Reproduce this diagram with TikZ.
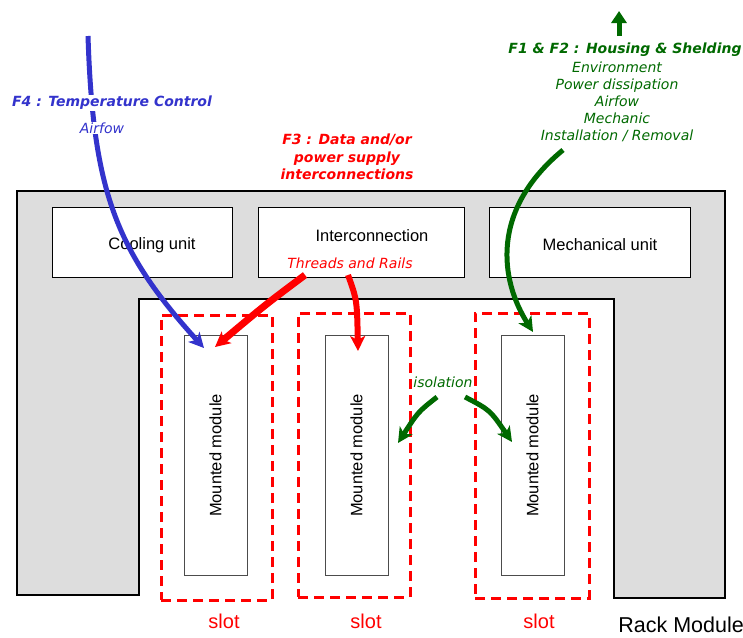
\documentclass[tikz,border=0pt]{standalone}
\usepackage{fontspec}
\setmainfont{Liberation Sans}
\newfontfamily\verdanafont{DejaVu Sans}
\usetikzlibrary{arrows.meta,positioning}

\definecolor{flowblue}{RGB}{51,51,204}
\definecolor{flowgreen}{RGB}{0,105,0}
\definecolor{rackgray}{RGB}{221,221,221}

\newcommand\unitfont{\fontsize{16.5}{19}\selectfont}
\newcommand\bigunitfont{\fontsize{20}{22}\selectfont}
\newcommand\funcfont{\verdanafont\bfseries\itshape\fontsize{14}{17.5}\selectfont}
\newcommand\notefont{\verdanafont\itshape\fontsize{14}{17}\selectfont}

\tikzset{
  rackbox/.style={draw=black, fill=rackgray, line width=2pt, line join=miter},
  unitbox/.style={draw=black, fill=white, line width=1pt, inner sep=0pt},
  slotbox/.style={draw=red, line width=3pt, dash pattern=on 10pt off 6pt, inner sep=0pt},
  modulebox/.style={draw=black!70, fill=white, line width=1pt, inner sep=0pt,
                    minimum width=63pt, minimum height=240pt},
  unitlabel/.style={font=\unitfont, inner sep=0pt},
  slotlabel/.style={font=\bigunitfont, text=red, inner sep=0pt, anchor=base},
  flowlabel/.style={font=\funcfont, fill=white, inner sep=1pt, align=center},
  notelabel/.style={font=\notefont, inner sep=1pt, align=center},
  arrowtip/.style={-{Stealth[length=15pt,width=15pt,inset=4pt]}},
}

\begin{document}
\begin{tikzpicture}[x=1pt, y=-1pt]
        \useasboundingbox (0,0) rectangle (743,637);

        % Rack module (grey frame)
        \draw[rackbox] (17,191) -- (725,191) -- (725,598) -- (614,598) -- (614,299)
            -- (139,299) -- (139,595) -- (17,595) -- cycle;
        \node[unitlabel, font=\fontsize{21.5}{23}\selectfont, anchor=base east] (rack) at (744,632) {Rack Module};

        % Units in the rack
        \node[unitbox, minimum width=180pt, minimum height=70pt] (cooling) at (142,242) {};
        \node[unitbox, minimum width=206pt, minimum height=70pt] (inter) at (361,242) {};
        \node[unitbox, minimum width=201pt, minimum height=70pt] (mech) at (589.5,242) {};
        \node[unitlabel] (coolingtext) at (152,245) {Cooling unit};
        \node[unitlabel] (intertext) at (372,236) {Interconnection};
        \node[unitlabel] (mechtext) at (600,245) {Mechanical unit};

        % Slots and mounted modules
        \node[slotbox, minimum width=111pt, minimum height=285pt] (slot1) at (216.5,457.5) {};
        \node[slotbox, minimum width=112pt, minimum height=284pt] (slot2) at (354,455) {};
        \node[slotbox, minimum width=114pt, minimum height=285pt] (slot3) at (532,455.5) {};
        \foreach \i/\x in {1/215.5, 2/356.5, 3/532.5} {
            \node[modulebox] (mod\i) at (\x,455.5) {};
            \node[unitlabel, rotate=90] (modtext\i) at (mod\i) {Mounted module};
        }
        \node[slotlabel] (slotlabel1) at (224,628) {slot};
        \node[slotlabel] (slotlabel2) at (366,628) {slot};
        \node[slotlabel] (slotlabel3) at (539,628) {slot};

        % F4 : temperature control
        \coordinate (bluestart) at (88,36);
        \coordinate (bluetip) at (204,348);
        \draw[flowblue, line width=5pt, arrowtip] (bluestart)
            .. controls (93,190) and (115,250) .. (bluetip);
        \node[flowlabel, text=flowblue] (f4) at (112,103) {F4 : Temperature Control};
        \node[notelabel, text=flowblue, fill=white] (airfow) at (102,128) {Airfow};

        % F3 : data and power
        \node[flowlabel, text=red] (f3) at (347,157) {F3 : Data and/or\\ power supply\\ interconnections};
        \node[notelabel, text=red] (threads) at (350,263) {Threads and Rails};
        \coordinate (redstart1) at (305,275);
        \coordinate (redtip1) at (215,347);
        \coordinate (redstart2) at (348,275);
        \coordinate (redtip2) at (358,351);
        \draw[red, line width=7pt, arrowtip] (redstart1) .. controls (265,305) .. (redtip1);
        \draw[red, line width=6pt, arrowtip] (redstart2) .. controls (357,300) .. (redtip2);

        % F1 & F2 : housing and shelding
        \coordinate (upstart) at (619,36);
        \coordinate (uptip) at (619,11);
        \draw[flowgreen, line width=5pt, -{Triangle[length=12pt,width=15pt]}] (upstart) -- (uptip);
        \node[flowlabel, text=flowgreen, fill=none] (f12) at (625,50) {F1 \& F2 : Housing \& Shelding};
        \node[notelabel, text=flowgreen] (f12notes) at (617,102)
            {Environment\\ Power dissipation\\ Airfow\\ Mechanic\\ Installation / Removal};
        \coordinate (greenstart) at (563,150);
        \coordinate (greentip) at (533,332);
        \draw[flowgreen, line width=5pt, arrowtip] (greenstart)
            .. controls (490,210) and (500,280) .. (greentip);

        % Isolation between slots
        \node[notelabel, text=flowgreen] (isolation) at (443,382) {isolation};
        \coordinate (isostart1) at (437,397);
        \coordinate (isotip1) at (398,443);
        \coordinate (isostart2) at (465,397);
        \coordinate (isotip2) at (512,442);
        \draw[flowgreen, line width=5pt, arrowtip] (isostart1) .. controls (418,412) .. (isotip1);
        \draw[flowgreen, line width=5pt, arrowtip] (isostart2) .. controls (490,410) .. (isotip2);
\end{tikzpicture}
\end{document}
